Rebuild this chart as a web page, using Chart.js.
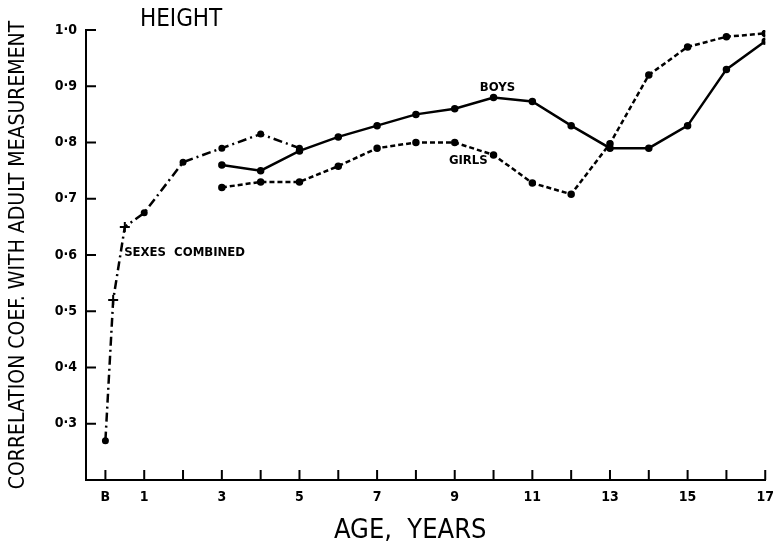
<!DOCTYPE html>
<html>
<head>
<meta charset="utf-8">
<script src="https://cdn.jsdelivr.net/npm/chart.js@4.4.1/dist/chart.umd.min.js"></script>
<style>
  html, body { margin: 0; padding: 0; background: #fff; }
  #wrap { width: 783px; height: 551px; }
</style>
</head>
<body>
<div id="wrap"><canvas id="chart"></canvas></div>
<script>
// ages (years, B = birth = 0)
const combinedAges = [0, 0.2, 0.5, 1, 2, 3, 4, 5];
const combinedValues = [0.27, 0.52, 0.65, 0.675, 0.765, 0.79, 0.815, 0.79];
const combinedMarkers = ['circle', 'cross', 'cross', 'circle', 'circle', 'circle', 'circle', 'circle'];

const sexAges = [3, 4, 5, 6, 7, 8, 9, 10, 11, 12, 13, 14, 15, 16, 17];
const boysValues = [0.76, 0.75, 0.785, 0.81, 0.83, 0.85, 0.86, 0.88, 0.873, 0.83, 0.79, 0.79, 0.83, 0.93, 0.98];
const girlsValues = [0.72, 0.73, 0.73, 0.758, 0.79, 0.8, 0.8, 0.778, 0.728, 0.708, 0.798, 0.92, 0.97, 0.988, 0.994];

const xTickValues = [0, 1, 2, 3, 4, 5, 6, 7, 8, 9, 10, 11, 12, 13, 14, 15, 16, 17];
const yTickValues = [0.3, 0.4, 0.5, 0.6, 0.7, 0.8, 0.9, 1.0];

// text placed in data coordinates
const notes = [
    { text: 'HEIGHT', x: 1.95, y: 1.018, size: 24, weight: 'normal' },
    { text: 'BOYS', x: 10.1, y: 0.897, size: 13, weight: 'bold' },
    { text: 'GIRLS', x: 9.35, y: 0.768, size: 13, weight: 'bold' },
    { text: 'SEXES  COMBINED', x: 2.04, y: 0.604, size: 13, weight: 'bold' },
];

const FONT = "'DejaVu Sans Condensed', sans-serif";
const INK = '#000';

const toPoints = (xs, ys) => xs.map((x, i) => ({ x, y: ys[i] }));

// inward tick marks + free text
const inkPlugin = {
    id: 'ink',
    afterDraw(chart) {
        const { ctx, chartArea, scales } = chart;
        ctx.save();
        ctx.strokeStyle = INK;
        ctx.lineWidth = 2;
        ctx.beginPath();
        yTickValues.forEach((v) => {
            const py = scales.y.getPixelForValue(v);
            ctx.moveTo(chartArea.left, py);
            ctx.lineTo(chartArea.left + 10, py);
        });
        xTickValues.forEach((v) => {
            const px = scales.x.getPixelForValue(v);
            ctx.moveTo(px, chartArea.bottom);
            ctx.lineTo(px, chartArea.bottom - 10);
        });
        ctx.stroke();

        ctx.fillStyle = INK;
        ctx.textAlign = 'center';
        ctx.textBaseline = 'middle';
        notes.forEach((n) => {
            ctx.font = `${n.weight} ${n.size}px ${FONT}`;
            ctx.fillText(n.text, scales.x.getPixelForValue(n.x), scales.y.getPixelForValue(n.y));
        });
        ctx.restore();
    },
};

new Chart(document.getElementById('chart'), {
    type: 'line',
    data: {
        datasets: [
            {
                label: 'Sexes combined',
                data: toPoints(combinedAges, combinedValues),
                borderColor: INK,
                backgroundColor: INK,
                borderWidth: 2.5,
                borderDash: [9, 4, 2, 4],
                pointStyle: combinedMarkers,
                pointRadius: combinedMarkers.map((m) => (m === 'cross' ? 5 : 2.5)),
                pointBorderWidth: 2,
                tension: 0,
            },
            {
                label: 'Boys',
                data: toPoints(sexAges, boysValues),
                borderColor: INK,
                backgroundColor: INK,
                borderWidth: 2.5,
                pointRadius: 2.5,
                tension: 0,
            },
            {
                label: 'Girls',
                data: toPoints(sexAges, girlsValues),
                borderColor: INK,
                backgroundColor: INK,
                borderWidth: 2.5,
                borderDash: [5, 3],
                pointRadius: 2.5,
                tension: 0,
            },
        ],
    },
    options: {
        responsive: true,
        maintainAspectRatio: false,
        animation: false,
        layout: { padding: { top: 30, right: 10, left: 0, bottom: 0 } },
        plugins: {
            legend: { display: false },
            tooltip: { enabled: false },
        },
        scales: {
            x: {
                type: 'linear',
                min: -0.5,
                max: 17,
                afterBuildTicks: (scale) => {
                    scale.ticks = xTickValues.map((value) => ({ value }));
                },
                afterFit: (scale) => { scale.height = 71; },
                ticks: {
                    autoSkip: false,
                    maxRotation: 0,
                    padding: 9,
                    color: INK,
                    font: { family: FONT, size: 14, weight: 'bold' },
                    callback: (v) => (v === 0 ? 'B' : (v % 2 === 1 ? String(v) : '')),
                },
                grid: { display: false, drawTicks: false },
                border: { display: true, color: INK, width: 2 },
                title: {
                    display: true,
                    // trailing spaces nudge the centred title left, as in the original
                    text: 'AGE,  YEARS\u00a0\u00a0\u00a0\u00a0',
                    color: INK,
                    font: { family: FONT, size: 27 },
                    padding: { top: 12 },
                },
            },
            y: {
                type: 'linear',
                min: 0.2,
                max: 1.0,
                afterBuildTicks: (scale) => {
                    scale.ticks = yTickValues.map((value) => ({ value }));
                },
                afterFit: (scale) => { scale.width = 86; },
                ticks: {
                    padding: 9,
                    color: INK,
                    font: { family: FONT, size: 14, weight: 'bold' },
                    callback: (v) => v.toFixed(1).replace('.', '·'),
                },
                grid: { display: false, drawTicks: false },
                border: { display: true, color: INK, width: 2 },
                title: {
                    display: true,
                    text: 'CORRELATION COEF. WITH ADULT MEASUREMENT',
                    color: INK,
                    font: { family: FONT, size: 21 },
                    padding: { top: 6 },
                },
            },
        },
    },
    plugins: [inkPlugin],
});
</script>
</body>
</html>
